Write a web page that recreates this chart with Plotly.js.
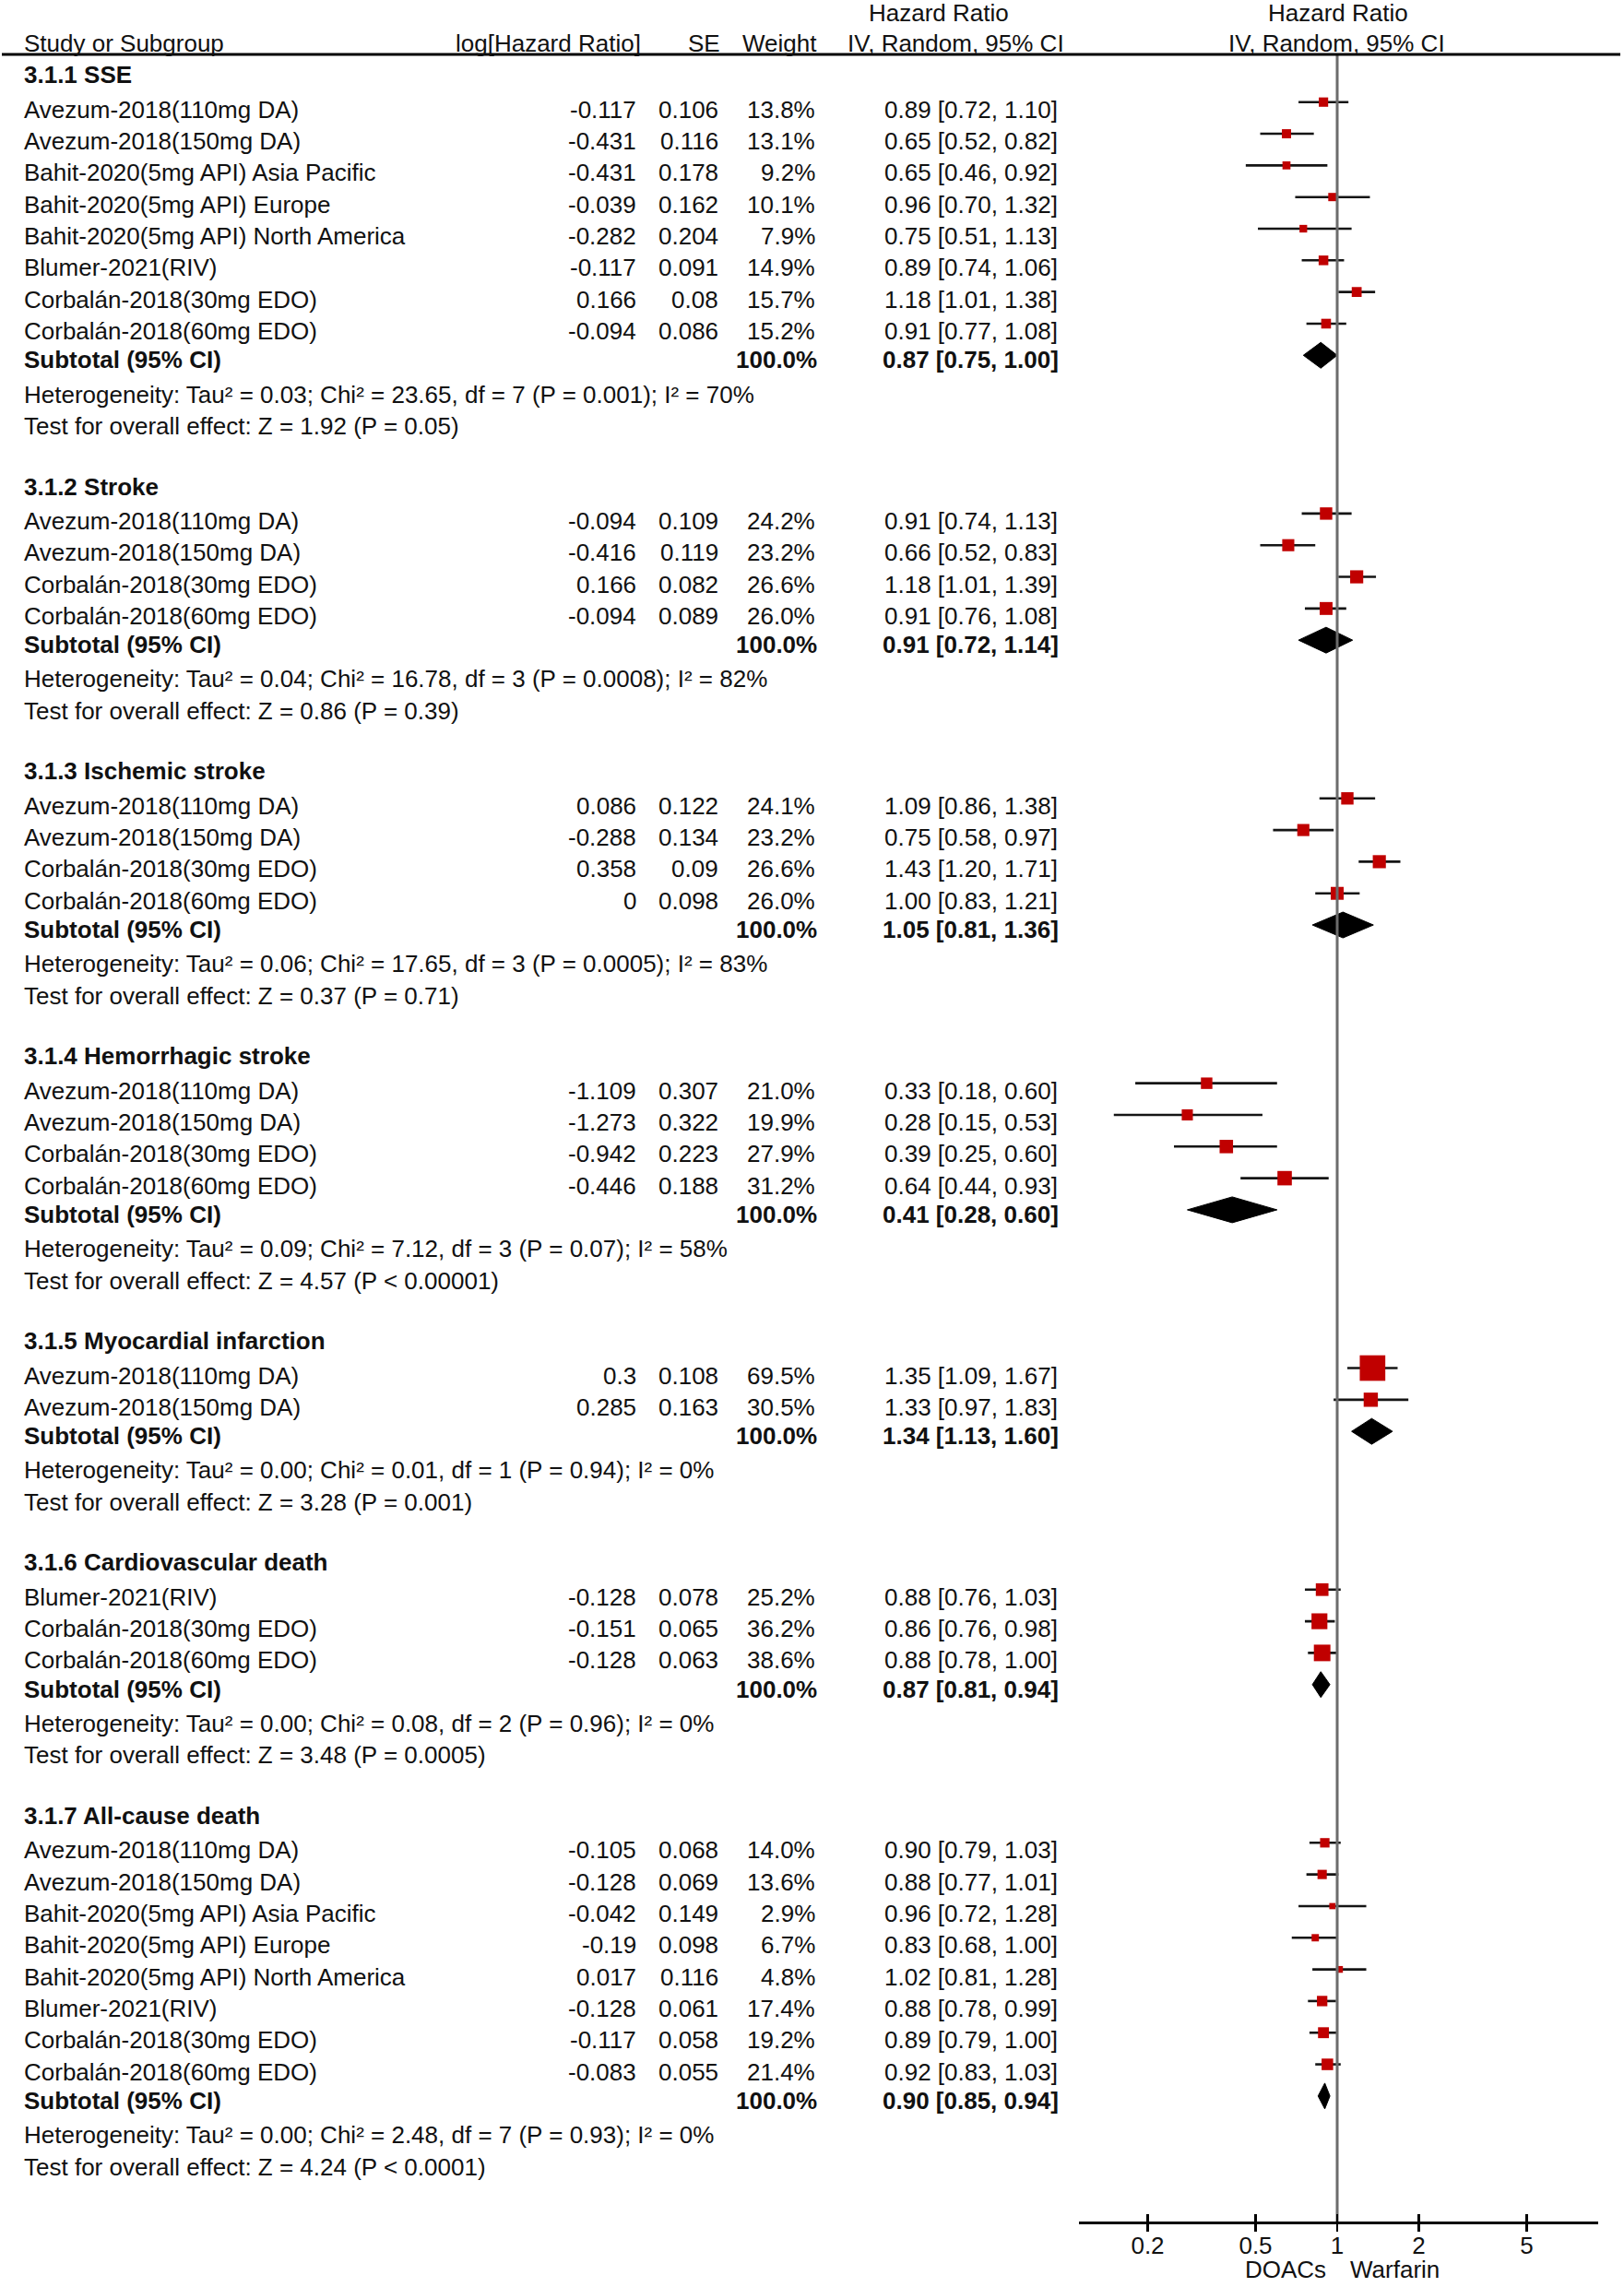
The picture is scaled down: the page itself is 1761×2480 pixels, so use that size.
<!DOCTYPE html>
<html><head><meta charset="utf-8">
<script src="https://cdn.plot.ly/plotly-3.0.1.min.js"></script>
<style>html,body{margin:0;padding:0;background:#fff;}#chart{width:1761px;height:2480px;}</style>
</head><body><div id="chart"></div>
<script>
// ---------------- DATA ----------------
const groupTitles = ["3.1.1 SSE", "3.1.2 Stroke", "3.1.3 Ischemic stroke", "3.1.4 Hemorrhagic stroke",
  "3.1.5 Myocardial infarction", "3.1.6 Cardiovascular death", "3.1.7 All-cause death"];

const studyGroup = [0,0,0,0,0,0,0,0, 1,1,1,1, 2,2,2,2, 3,3,3,3, 4,4, 5,5,5, 6,6,6,6,6,6,6,6];

const studyNames = [
  "Avezum-2018(110mg DA)", "Avezum-2018(150mg DA)", "Bahit-2020(5mg API) Asia Pacific", "Bahit-2020(5mg API) Europe",
  "Bahit-2020(5mg API) North America", "Blumer-2021(RIV)", "Corbalán-2018(30mg EDO)", "Corbalán-2018(60mg EDO)",
  "Avezum-2018(110mg DA)", "Avezum-2018(150mg DA)", "Corbalán-2018(30mg EDO)", "Corbalán-2018(60mg EDO)",
  "Avezum-2018(110mg DA)", "Avezum-2018(150mg DA)", "Corbalán-2018(30mg EDO)", "Corbalán-2018(60mg EDO)",
  "Avezum-2018(110mg DA)", "Avezum-2018(150mg DA)", "Corbalán-2018(30mg EDO)", "Corbalán-2018(60mg EDO)",
  "Avezum-2018(110mg DA)", "Avezum-2018(150mg DA)",
  "Blumer-2021(RIV)", "Corbalán-2018(30mg EDO)", "Corbalán-2018(60mg EDO)",
  "Avezum-2018(110mg DA)", "Avezum-2018(150mg DA)", "Bahit-2020(5mg API) Asia Pacific", "Bahit-2020(5mg API) Europe",
  "Bahit-2020(5mg API) North America", "Blumer-2021(RIV)", "Corbalán-2018(30mg EDO)", "Corbalán-2018(60mg EDO)"
];

const logHR = [-0.117, -0.431, -0.431, -0.039, -0.282, -0.117, 0.166, -0.094,
  -0.094, -0.416, 0.166, -0.094,
  0.086, -0.288, 0.358, 0,
  -1.109, -1.273, -0.942, -0.446,
  0.3, 0.285,
  -0.128, -0.151, -0.128,
  -0.105, -0.128, -0.042, -0.19, 0.017, -0.128, -0.117, -0.083];

const seVals = [0.106, 0.116, 0.178, 0.162, 0.204, 0.091, 0.08, 0.086,
  0.109, 0.119, 0.082, 0.089,
  0.122, 0.134, 0.09, 0.098,
  0.307, 0.322, 0.223, 0.188,
  0.108, 0.163,
  0.078, 0.065, 0.063,
  0.068, 0.069, 0.149, 0.098, 0.116, 0.061, 0.058, 0.055];

const weights = [13.8, 13.1, 9.2, 10.1, 7.9, 14.9, 15.7, 15.2,
  24.2, 23.2, 26.6, 26.0,
  24.1, 23.2, 26.6, 26.0,
  21.0, 19.9, 27.9, 31.2,
  69.5, 30.5,
  25.2, 36.2, 38.6,
  14.0, 13.6, 2.9, 6.7, 4.8, 17.4, 19.2, 21.4];

const hrVals = [0.89, 0.65, 0.65, 0.96, 0.75, 0.89, 1.18, 0.91,
  0.91, 0.66, 1.18, 0.91,
  1.09, 0.75, 1.43, 1.00,
  0.33, 0.28, 0.39, 0.64,
  1.35, 1.33,
  0.88, 0.86, 0.88,
  0.90, 0.88, 0.96, 0.83, 1.02, 0.88, 0.89, 0.92];

const ciLow = [0.72, 0.52, 0.46, 0.70, 0.51, 0.74, 1.01, 0.77,
  0.74, 0.52, 1.01, 0.76,
  0.86, 0.58, 1.20, 0.83,
  0.18, 0.15, 0.25, 0.44,
  1.09, 0.97,
  0.76, 0.76, 0.78,
  0.79, 0.77, 0.72, 0.68, 0.81, 0.78, 0.79, 0.83];

const ciHigh = [1.10, 0.82, 0.92, 1.32, 1.13, 1.06, 1.38, 1.08,
  1.13, 0.83, 1.39, 1.08,
  1.38, 0.97, 1.71, 1.21,
  0.60, 0.53, 0.60, 0.93,
  1.67, 1.83,
  1.03, 0.98, 1.00,
  1.03, 1.01, 1.28, 1.00, 1.28, 0.99, 1.00, 1.03];

const subHR   = [0.87, 0.91, 1.05, 0.41, 1.34, 0.87, 0.90];
const subLow  = [0.75, 0.72, 0.81, 0.28, 1.13, 0.81, 0.85];
const subHigh = [1.00, 1.14, 1.36, 0.60, 1.60, 0.94, 0.94];

const hetTexts = [
  "Heterogeneity: Tau² = 0.03; Chi² = 23.65, df = 7 (P = 0.001); I² = 70%",
  "Heterogeneity: Tau² = 0.04; Chi² = 16.78, df = 3 (P = 0.0008); I² = 82%",
  "Heterogeneity: Tau² = 0.06; Chi² = 17.65, df = 3 (P = 0.0005); I² = 83%",
  "Heterogeneity: Tau² = 0.09; Chi² = 7.12, df = 3 (P = 0.07); I² = 58%",
  "Heterogeneity: Tau² = 0.00; Chi² = 0.01, df = 1 (P = 0.94); I² = 0%",
  "Heterogeneity: Tau² = 0.00; Chi² = 0.08, df = 2 (P = 0.96); I² = 0%",
  "Heterogeneity: Tau² = 0.00; Chi² = 2.48, df = 7 (P = 0.93); I² = 0%"
];
const testTexts = [
  "Test for overall effect: Z = 1.92 (P = 0.05)",
  "Test for overall effect: Z = 0.86 (P = 0.39)",
  "Test for overall effect: Z = 0.37 (P = 0.71)",
  "Test for overall effect: Z = 4.57 (P < 0.00001)",
  "Test for overall effect: Z = 3.28 (P = 0.001)",
  "Test for overall effect: Z = 3.48 (P = 0.0005)",
  "Test for overall effect: Z = 4.24 (P < 0.0001)"
];

const tickVals = [0.2, 0.5, 1, 2, 5];
const tickLabels = ["0.2", "0.5", "1", "2", "5"];
const favourLeft = "DOACs";
const favourRight = "Warfarin";

// ---------------- LAYOUT PARAMETERS ----------------
const W = 1761, H = 2480;
const FONT = "Liberation Sans, Arial, Helvetica, sans-serif";
const FS = 26;
const INK = "#111111";
const ROW_STEP = 34.32, ROW0 = 76.4, AXIS_PX = 2409, HEADER_LINE_PX = 59;
const TEXT_SHIFT = -8, BOLD_SHIFT = -5;
const yTopRow = -ROW0 / ROW_STEP;
const yBottomRow = (AXIS_PX - ROW0) / ROW_STEP;
const px2paperY = p => (H - p) / H;
const px2paperX = p => p / W;

// columns (pixels)
const COL_NAME = 24, COL_LOG = 692, COL_SE = 781, COL_W = 886, COL_CI = 957;

// ---------------- ROW ASSIGNMENT ----------------
const hdrRow = [], subRow = [], hetRow = [], testRow = [], studyRow = [];
let r = 0;
groupTitles.forEach((t, g) => {
  hdrRow[g] = r++;
  studyGroup.forEach((sg, i) => { if (sg === g) studyRow[i] = r++; });
  subRow[g] = r++;
  hetRow[g] = r++;
  testRow[g] = r++;
  r++;
});

// ---------------- TEXT ----------------
const annotations = [];
function rowText(xpx, row, text, anchor, bold) {
  annotations.push({
    xref: "paper", yref: "y", x: px2paperX(xpx), y: row, yshift: bold ? BOLD_SHIFT : TEXT_SHIFT,
    text: bold ? "<b>" + text + "</b>" : text, showarrow: false,
    xanchor: anchor, yanchor: "middle",
    font: { family: FONT, size: FS, color: INK }
  });
}
function pxText(xpx, ypx, text, anchor) {
  annotations.push({
    xref: "paper", yref: "paper", x: px2paperX(xpx), y: px2paperY(ypx),
    text: text, showarrow: false, xanchor: anchor, yanchor: "middle",
    font: { family: FONT, size: FS, color: INK }
  });
}
const fmtCI = (h, l, u) => h.toFixed(2) + " [" + l.toFixed(2) + ", " + u.toFixed(2) + "]";

// headers
pxText(COL_NAME, 47, "Study or Subgroup", "left");
pxText(697, 47, "log[Hazard Ratio]", "right");
pxText(783, 47, "SE", "right");
pxText(888, 47, "Weight", "right");
pxText(1018, 14, "Hazard Ratio", "center");
pxText(1036, 47, "IV, Random, 95% CI", "center");
pxText(1451, 14, "Hazard Ratio", "center");
pxText(1449, 47, "IV, Random, 95% CI", "center");

groupTitles.forEach((t, g) => {
  rowText(COL_NAME, hdrRow[g], t, "left", true);
  rowText(COL_NAME, subRow[g], "Subtotal (95% CI)", "left", true);
  rowText(COL_W + 2, subRow[g], "100.0%", "right", true);
  rowText(COL_CI - 2, subRow[g], fmtCI(subHR[g], subLow[g], subHigh[g]), "left", true);
  rowText(COL_NAME, hetRow[g], hetTexts[g], "left", false);
  rowText(COL_NAME, testRow[g], testTexts[g], "left", false);
});
studyNames.forEach((n, i) => {
  rowText(COL_NAME, studyRow[i], n, "left", false);
  rowText(COL_LOG, studyRow[i], String(logHR[i]), "right", false);
  rowText(COL_SE, studyRow[i], String(seVals[i]), "right", false);
  rowText(COL_W, studyRow[i], weights[i].toFixed(1) + "%", "right", false);
  rowText(COL_CI, studyRow[i], fmtCI(hrVals[i], ciLow[i], ciHigh[i]), "left", false);
});
pxText(1440, 2461, favourLeft, "right");
pxText(1462, 2461, favourRight, "left");

// ---------------- TRACES ----------------
const traces = [];
// CI whiskers
const cx = [], cy = [];
studyNames.forEach((n, i) => { cx.push(ciLow[i], ciHigh[i], null); cy.push(studyRow[i], studyRow[i], null); });
traces.push({ type: "scatter", mode: "lines", x: cx, y: cy, xaxis: "x", yaxis: "y",
  line: { color: "#151515", width: 2.6 }, hoverinfo: "skip", cliponaxis: false });
// line of no effect
traces.push({ type: "scatter", mode: "lines", x: [1, 1], y: [(HEADER_LINE_PX - ROW0) / ROW_STEP, yBottomRow],
  xaxis: "x2", yaxis: "y", line: { color: "#6c6c6c", width: 3 }, hoverinfo: "skip", cliponaxis: false });
// study boxes
traces.push({ type: "scatter", mode: "markers", x: hrVals, y: studyRow, xaxis: "x", yaxis: "y",
  marker: { symbol: "square", color: "#c00000", opacity: 1, size: weights.map(w => 5.8 + 0.315 * w), line: { width: 0 } },
  opacity: 1, hoverinfo: "skip", cliponaxis: false });
// subtotal diamonds
const DH = 14 / ROW_STEP;
subHR.forEach((h, g) => {
  const rr = subRow[g];
  traces.push({ type: "scatter", mode: "lines", fill: "toself", fillcolor: "#000000",
    x: [subLow[g], h, subHigh[g], h, subLow[g]], y: [rr, rr - DH, rr, rr + DH, rr],
    xaxis: "x", yaxis: "y", line: { color: "#000000", width: 1 }, hoverinfo: "skip", cliponaxis: false });
});

const xRange = [-0.9541, 0.9612];
const xDomain = [px2paperX(1169.5), px2paperX(1732.6)];
const layout = {
  width: W, height: H, margin: { l: 0, r: 0, t: 0, b: 0, pad: 0 },
  paper_bgcolor: "#ffffff", plot_bgcolor: "rgba(0,0,0,0)", showlegend: false,
  font: { family: FONT, size: FS, color: INK },
  xaxis: { type: "log", range: xRange, domain: xDomain, anchor: "y", showline: true, linecolor: "#000000",
    linewidth: 3, ticks: "outside", ticklen: 8, tickwidth: 2.5, tickcolor: "#000000",
    tickmode: "array", tickvals: tickVals, ticktext: tickLabels, tickfont: { family: FONT, size: FS, color: INK },
    ticklabelstandoff: -7, showgrid: false, zeroline: false, fixedrange: true },
  xaxis2: { type: "log", range: xRange, overlaying: "x", anchor: "y", side: "bottom", showline: false,
    ticks: "inside", ticklen: 8, tickwidth: 2.5, tickcolor: "#000000", tickmode: "array", tickvals: tickVals,
    showticklabels: false, showgrid: false, zeroline: false, fixedrange: true },
  yaxis: { range: [yBottomRow, yTopRow], domain: [px2paperY(AXIS_PX), 1], visible: false, fixedrange: true },
  shapes: [
    { type: "line", xref: "paper", yref: "paper", x0: px2paperX(2), x1: px2paperX(1757),
      y0: px2paperY(HEADER_LINE_PX), y1: px2paperY(HEADER_LINE_PX), line: { color: "#000000", width: 3 } }
  ],
  annotations: annotations
};
Plotly.newPlot("chart", traces, layout, { staticPlot: true, displayModeBar: false });
</script>
</body></html>
